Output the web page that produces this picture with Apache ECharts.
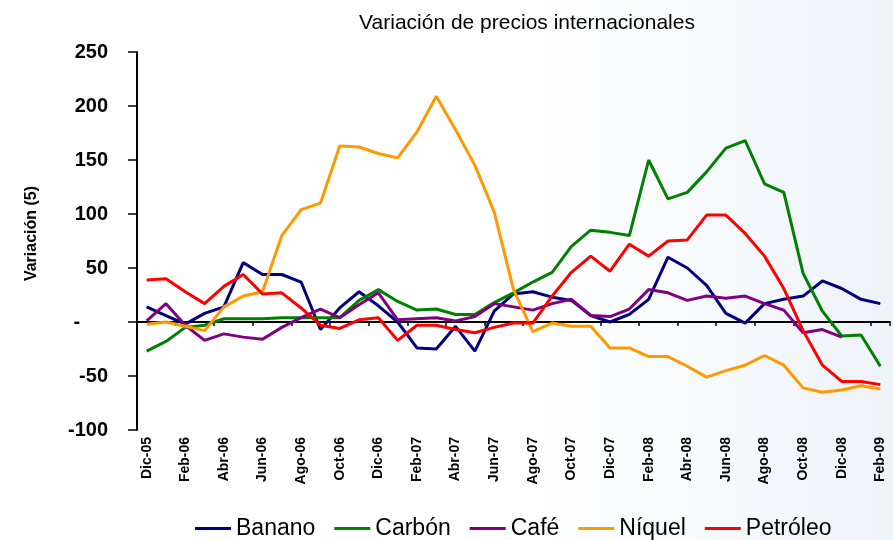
<!DOCTYPE html>
<html>
<head>
<meta charset="utf-8">
<script src="https://cdn.jsdelivr.net/npm/echarts@6/dist/echarts.min.js"></script>
<style>
  html, body { margin: 0; padding: 0; }
  #chart { width: 893px; height: 540px; }
</style>
</head>
<body>
<div id="chart"></div>
<script>
const meses = [
  'Dic-05', 'Ene-06', 'Feb-06', 'Mar-06', 'Abr-06', 'May-06', 'Jun-06', 'Jul-06', 'Ago-06', 'Sep-06', 'Oct-06', 'Nov-06',
  'Dic-06', 'Ene-07', 'Feb-07', 'Mar-07', 'Abr-07', 'May-07', 'Jun-07', 'Jul-07', 'Ago-07', 'Sep-07', 'Oct-07', 'Nov-07',
  'Dic-07', 'Ene-08', 'Feb-08', 'Mar-08', 'Abr-08', 'May-08', 'Jun-08', 'Jul-08', 'Ago-08', 'Sep-08', 'Oct-08', 'Nov-08',
  'Dic-08', 'Ene-09', 'Feb-09'
];

const banano = [14, 6, -2, 8, 14, 55, 44, 44, 37, -7, 13, 28, 15, 0, -24, -25, -4, -27, 10, 26, 28, 23, 20, 6, 0, 7, 21, 60, 50, 34, 8, -1, 17, 21, 24, 38, 31, 21, 17];
const carbon = [-27, -18, -5, -3, 3, 3, 3, 4, 4, 4, 4, 20, 30, 19, 11, 12, 7, 7, 18, 27, 37, 46, 70, 85, 83, 80, 150, 114, 120, 139, 161, 168, 128, 120, 45, 10, -13, -12, -41];
const cafe = [1, 17, -3, -17, -11, -14, -16, -5, 4, 12, 4, 16, 27, 2, 3, 4, 1, 5, 17, 14, 11, 17, 21, 6, 5, 12, 30, 27, 20, 24, 22, 24, 17, 11, -10, -7, -14, null, null];
const niquel = [-2, 0, -4, -8, 14, 24, 28, 80, 104, 110, 163, 162, 156, 152, 176, 209, 178, 145, 102, 30, -9, -1, -4, -4, -24, -24, -32, -32, -41, -51, -45, -40, -31, -40, -61, -65, -63, -59, -62];
const petroleo = [39, 40, 28, 17, 33, 44, 26, 27, 13, -3, -6, 2, 4, -17, -3, -3, -7, -10, -5, -1, -1, 24, 46, 61, 47, 72, 61, 75, 76, 99, 99, 82, 61, 31, -8, -40, -55, -55, -58];

const nombres = ['Banano', 'Carbón', 'Café', 'Níquel', 'Petróleo'];
const colores = ['#000080', '#008000', '#800080', '#FF9900', '#FF0000'];

let myChart = echarts.init(document.getElementById('chart'));

function serie(i, data) {
  return {
    name: nombres[i],
    type: 'line',
    data: data,
    symbol: 'none',
    connectNulls: false,
    lineStyle: { width: 3, color: colores[i] },
    itemStyle: { color: colores[i] }
  };
}

let option = {
  backgroundColor: {
    type: 'linear', x: 0, y: 0, x2: 1, y2: 0,
    colorStops: [
      { offset: 0, color: '#ffffff' },
      { offset: 0.6, color: '#ffffff' },
      { offset: 1, color: '#eef3f9' }
    ]
  },
  animation: false,
  textStyle: { fontFamily: 'Liberation Sans, Arial, sans-serif' },
  title: {
    text: 'Variación de precios internacionales',
    left: 522,
    textAlign: 'center',
    top: 8,
    textStyle: { fontSize: 21, fontWeight: 'normal', color: '#000' }
  },
  legend: {
    data: nombres,
    left: 190,
    top: 512,
    icon: 'rect',
    itemWidth: 36,
    itemHeight: 3,
    itemGap: 19,
    textStyle: { fontSize: 23, color: '#000' }
  },
  grid: { left: 137, right: 3, top: 52, height: 378 },
  xAxis: [
    {
      type: 'category',
      data: meses,
      position: 'bottom',
      axisLine: { show: false, onZero: false },
      axisTick: { show: false },
      axisLabel: {
        interval: 1,
        rotate: 90,
        margin: 7,
        fontSize: 14,
        fontWeight: 'bold',
        color: '#000'
      },
      splitLine: { show: false }
    },
    {
      type: 'category',
      data: meses,
      position: 'top',
      axisLine: { show: true, onZero: true, lineStyle: { color: '#000', width: 2 } },
      axisTick: { show: true, interval: 1, inside: true, length: 4, lineStyle: { color: '#000', width: 1.5 } },
      axisLabel: { show: false },
      splitLine: { show: false }
    }
  ],
  yAxis: {
    type: 'value',
    min: -100,
    max: 250,
    interval: 50,
    name: 'Variación (5)',
    nameLocation: 'middle',
    nameGap: 97,
    nameTextStyle: { fontSize: 16, fontWeight: 'bold', color: '#000', padding: [0, 0, 0, 15] },
    axisLine: { show: true, lineStyle: { color: '#000', width: 2 } },
    axisTick: { show: true, length: 9, lineStyle: { color: '#000', width: 1.5 } },
    axisLabel: {
      margin: 29,
      fontSize: 20,
      fontWeight: 'bold',
      color: '#000',
      formatter: function (v) { return v === 0 ? '-     ' : String(v); }
    },
    splitLine: { show: false }
  },
  series: [
    serie(0, banano),
    serie(1, carbon),
    serie(2, cafe),
    serie(3, niquel),
    serie(4, petroleo)
  ]
};

myChart.setOption(option);
</script>
</body>
</html>
